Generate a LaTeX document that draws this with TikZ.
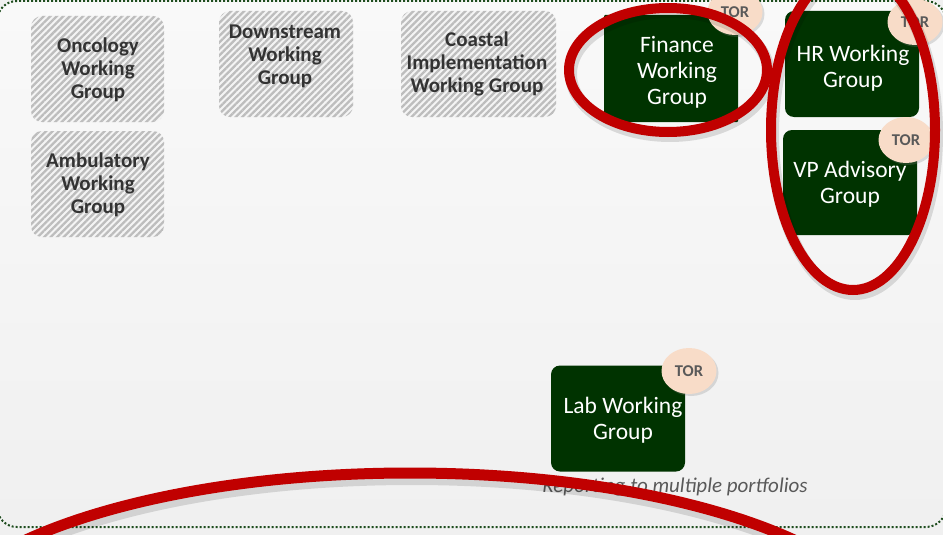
\documentclass[tikz,border=0pt]{standalone}
\usepackage{fontspec}
\setmainfont{Carlito}
\usetikzlibrary{patterns.meta,shadows,shapes.geometric}
\definecolor{dkgreen}{HTML}{003300}
\definecolor{bordergreen}{HTML}{1E4D1E}
\definecolor{redline}{HTML}{C00000}
\definecolor{peach}{HTML}{F8DCC8}
\definecolor{torgray}{HTML}{595959}
\definecolor{hatchgray}{HTML}{BDBDBD}
\definecolor{hatchlight}{HTML}{F4F4F4}
\definecolor{txtgray}{HTML}{333333}
\definecolor{bgtop}{HTML}{F9F9F9}
\definecolor{bgbot}{HTML}{F0F0F0}
\tikzset{
  hatchbox/.style={rectangle, rounded corners=11pt, minimum height=106pt, inner sep=0pt,
    preaction={fill=hatchlight},
    pattern={Lines[angle=45,distance=4.6pt,line width=2.3pt]}, pattern color=hatchgray},
  greenbox/.style={rectangle, rounded corners=9pt, fill=dkgreen, minimum width=134pt,
    minimum height=106pt, inner sep=0pt},
  graytext/.style={font=\fontsize{21}{23}\selectfont\bfseries, text=txtgray, align=center, inner sep=0pt},
  whitetext/.style={font=\fontsize{23.5}{26}\selectfont, text=white, align=center, inner sep=0pt},
  tor/.style={ellipse, fill=peach, minimum width=55pt, minimum height=46pt, inner sep=0pt,
    font=\fontsize{16.5}{16.5}\selectfont\bfseries, text=torgray,
    drop shadow={shadow xshift=2pt, shadow yshift=-2pt, opacity=0.25}},
  redring/.style={draw=redline, line width=10pt},
  redshadow/.style={draw=black, opacity=0.12, line width=12pt},
}
\begin{document}
\begin{tikzpicture}[x=1pt,y=-1pt]
\useasboundingbox (0,0) rectangle (943,535);
\clip (0,0) rectangle (943,535);
\fill[bgbot] (0,0) rectangle (943,535);
% container
\shade[top color=bgtop, bottom color=bgbot, rounded corners=20pt] (-3,1) rectangle (946,527);
\draw[bordergreen, line width=2pt, dash pattern=on 2pt off 2pt, rounded corners=20pt] (-3,1) rectangle (946,527);

% hatched boxes
\node[hatchbox, minimum width=133pt] (onc) at (97.5,69) {};
\node[hatchbox, minimum width=133pt] (amb) at (97.5,184) {};
\node[hatchbox, minimum width=134pt] (down) at (286,64) {};
\node[hatchbox, minimum width=155pt] (coast) at (478.5,64) {};
\node[graytext] (onct) at (98,70) {Oncology\\Working\\Group};
\node[graytext] (ambt) at (98,185) {Ambulatory\\Working\\Group};
\node[graytext] (downt) at (285,56) {Downstream\\Working\\Group};
\node[graytext] (coastt) at (477,64) {Coastal\\Implementation\\Working Group};

% green boxes
\node[greenbox, rounded corners=1pt, minimum height=107pt] (fin) at (671,68.5) {};
\node[greenbox] (hr) at (852,64) {};
\node[greenbox, minimum height=105pt] (vp) at (850,182.5) {};
\node[greenbox] (lab) at (618,418.5) {};
\node[whitetext] (fint) at (677,72) {Finance\\Working\\Group};
\node[whitetext] (hrt) at (853,68) {HR Working\\Group};
\node[whitetext] (vpt) at (850,184) {VP Advisory\\Group};
\node[whitetext] (labt) at (623,420) {Lab Working\\Group};

% TOR badges
\node[tor] (fintor) at (735,12) {TOR};
\node[tor] (hrtor) at (915,22) {TOR};
\node[tor] (vptor) at (906,140) {TOR};
\node[tor] (labtor) at (689,371) {TOR};

% caption
\node[font=\fontsize{21}{23}\selectfont\itshape, text=torgray] (cap) at (675,487) {Reporting to multiple portfolios};

% red rings
\draw[redshadow] (670,74) ellipse [x radius=99pt, y radius=62pt];
\draw[redshadow] (855,134) ellipse [x radius=82pt, y radius=160pt];
\draw[redshadow] (412,651) ellipse [x radius=485pt, y radius=172pt];
\draw[redring] (668,70) ellipse [x radius=99pt, y radius=62pt];
\draw[redring] (853,130) ellipse [x radius=82pt, y radius=160pt];
\draw[redring, line width=11pt] (410,645) ellipse [x radius=485pt, y radius=172pt];
\end{tikzpicture}
\end{document}
